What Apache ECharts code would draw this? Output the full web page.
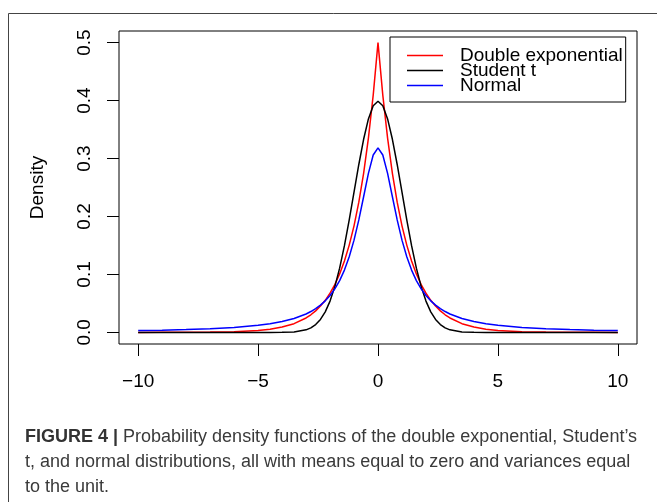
<!DOCTYPE html>
<html>
<head>
<meta charset="utf-8">
<style>
html,body{margin:0;padding:0;background:#fff;}
#c{width:657px;height:502px;}
</style>
<script src="https://cdn.jsdelivr.net/npm/echarts@6/dist/echarts.min.js"></script>
</head>
<body>
<div id="c"></div>
<script>
// ---- data ----
const seriesNames = ['Double exponential', 'Student t', 'Normal'];
const xValues = [-10,-9,-8,-7,-6,-5,-4.5,-4,-3.5,-3,-2.8,-2.6,-2.4,-2.2,-2,-1.8,-1.6,-1.4,-1.2,-1,-0.8,-0.6,-0.4,-0.2,0,
                 0.2,0.4,0.6,0.8,1,1.2,1.4,1.6,1.8,2,2.2,2.4,2.6,2.8,3,3.5,4,4.5,5,6,7,8,9,10];
const doubleExp = [0.0000,0.0001,0.0002,0.0005,0.0012,0.0034,0.0056,0.0092,0.0151,0.0249,0.0304,0.0371,0.0454,0.0554,0.0677,0.0826,0.1009,0.1233,0.1506,0.1839,0.2247,0.2744,0.3352,0.4094,0.5000,
                   0.4094,0.3352,0.2744,0.2247,0.1839,0.1506,0.1233,0.1009,0.0826,0.0677,0.0554,0.0454,0.0371,0.0304,0.0249,0.0151,0.0092,0.0056,0.0034,0.0012,0.0005,0.0002,0.0001,0.0000];
const studentT = [0,0,0,0,0,0,0,0.0001,0.0009,0.0044,0.0079,0.0136,0.0224,0.0355,0.0540,0.0790,0.1109,0.1497,0.1942,0.2420,0.2897,0.3332,0.3683,0.3910,0.3989,
                  0.3910,0.3683,0.3332,0.2897,0.2420,0.1942,0.1497,0.1109,0.0790,0.0540,0.0355,0.0224,0.0136,0.0079,0.0044,0.0009,0.0001,0,0,0,0,0,0,0];
const normal = [0.0032,0.0039,0.0049,0.0064,0.0086,0.0122,0.0150,0.0187,0.0240,0.0318,0.0360,0.0410,0.0471,0.0545,0.0637,0.0751,0.0894,0.1075,0.1305,0.1592,0.1941,0.2340,0.2744,0.3061,0.3183,
                0.3061,0.2744,0.2340,0.1941,0.1592,0.1305,0.1075,0.0894,0.0751,0.0637,0.0545,0.0471,0.0410,0.0360,0.0318,0.0240,0.0187,0.0150,0.0122,0.0086,0.0064,0.0049,0.0039,0.0032];
const xTicks = [-10, -5, 0, 5, 10];
const yTicks = [0.0, 0.1, 0.2, 0.3, 0.4, 0.5];
const yAxisTitle = 'Density';
const captionBold = 'FIGURE 4 |';
const captionLines = [
  ' Probability density functions of the double exponential, Student\u2019s',
  't, and normal distributions, all with means equal to zero and variances equal',
  'to the unit.'
];
const seriesColors = ['#ff0000', '#000000', '#0000ff'];
// ----------------------------------------------

const pairs = ys => xValues.map((x, i) => [x, ys[i]]);
const seriesData = [doubleExp, studentT, normal];

const FONT = 'Liberation Sans';
const CAP = 18;
const chart = echarts.init(document.getElementById('c'), null, {renderer: 'canvas'});

chart.setOption({
  animation: false,
  backgroundColor: '#ffffff',
  textStyle: {fontFamily: FONT},
  grid: [
    {left: 119, right: 20, top: 31, bottom: 158, show: true, borderColor: '#000', borderWidth: 1, backgroundColor: 'transparent'},
    {left: 138.2, right: 39.2, top: 42.6, bottom: 169.6}
  ],
  xAxis: [
    {gridIndex: 0, type: 'value', min: -10.8, max: 10.8, show: false},
    {gridIndex: 1, type: 'value', min: xTicks[0], max: xTicks[xTicks.length - 1], interval: xTicks[1] - xTicks[0],
     offset: 11.6, position: 'bottom',
     axisLine: {show: false, onZero: false},
     axisTick: {show: true, length: 12, lineStyle: {color: '#000', width: 1}},
     axisLabel: {fontSize: 19, color: '#000', margin: 28, fontFamily: FONT,
                 formatter: v => (v < 0 ? '\u2212' + Math.abs(v) : String(v))},
     splitLine: {show: false}}
  ],
  yAxis: [
    {gridIndex: 0, type: 'value', min: -0.02, max: 0.52, show: false},
    {gridIndex: 1, type: 'value', min: yTicks[0], max: yTicks[yTicks.length - 1], interval: 0.1,
     offset: 19.2, position: 'left',
     axisLine: {show: false, onZero: false},
     axisTick: {show: true, length: 12, lineStyle: {color: '#000', width: 1}},
     axisLabel: {rotate: 90, fontSize: 19, color: '#000', margin: 25, fontFamily: FONT,
                 formatter: v => Number(v).toFixed(1)},
     splitLine: {show: false},
     name: yAxisTitle, nameLocation: 'middle', nameRotate: 90, nameGap: 72,
     nameTextStyle: {fontSize: 19, color: '#000', fontFamily: FONT}}
  ],
  legend: {
    show: true, orient: 'vertical', left: 390, top: 37,
    padding: [9, 3, 7, 17], itemGap: -4, itemWidth: 36, itemHeight: 1.5, icon: 'rect',
    borderColor: '#000', borderWidth: 1, backgroundColor: '#fff',
    textStyle: {fontSize: 19, color: '#000', padding: [0, 0, 0, 12], fontFamily: FONT},
    data: seriesNames
  },
  series: seriesNames.map((name, i) => ({
    name: name, type: 'line', xAxisIndex: 0, yAxisIndex: 0,
    data: pairs(seriesData[i]), showSymbol: false, symbol: 'none',
    lineStyle: {color: seriesColors[i], width: 1.5}, itemStyle: {color: seriesColors[i]},
    emphasis: {disabled: true}
  })),
  graphic: [
    {type: 'rect', silent: true, z: -10,
     shape: {x: 8.5, y: 13.5, width: 700, height: 600},
     style: {fill: 'transparent', stroke: '#444', lineWidth: 1}},
    {type: 'text', x: 25, y: 436.7, silent: true,
     style: {text: '{b|' + captionBold + '}' + captionLines[0],
             font: CAP + 'px "' + FONT + '"', fill: '#3a3a3a', verticalAlign: 'middle',
             rich: {b: {fontWeight: 'bold', fontSize: CAP, fontFamily: FONT, fill: '#333'}}}},
    {type: 'text', x: 25, y: 461.7, silent: true,
     style: {text: captionLines[1], font: CAP + 'px "' + FONT + '"', fill: '#3a3a3a', verticalAlign: 'middle'}},
    {type: 'text', x: 25, y: 486.7, silent: true,
     style: {text: captionLines[2], font: CAP + 'px "' + FONT + '"', fill: '#3a3a3a', verticalAlign: 'middle'}}
  ]
});
</script>
</body>
</html>
